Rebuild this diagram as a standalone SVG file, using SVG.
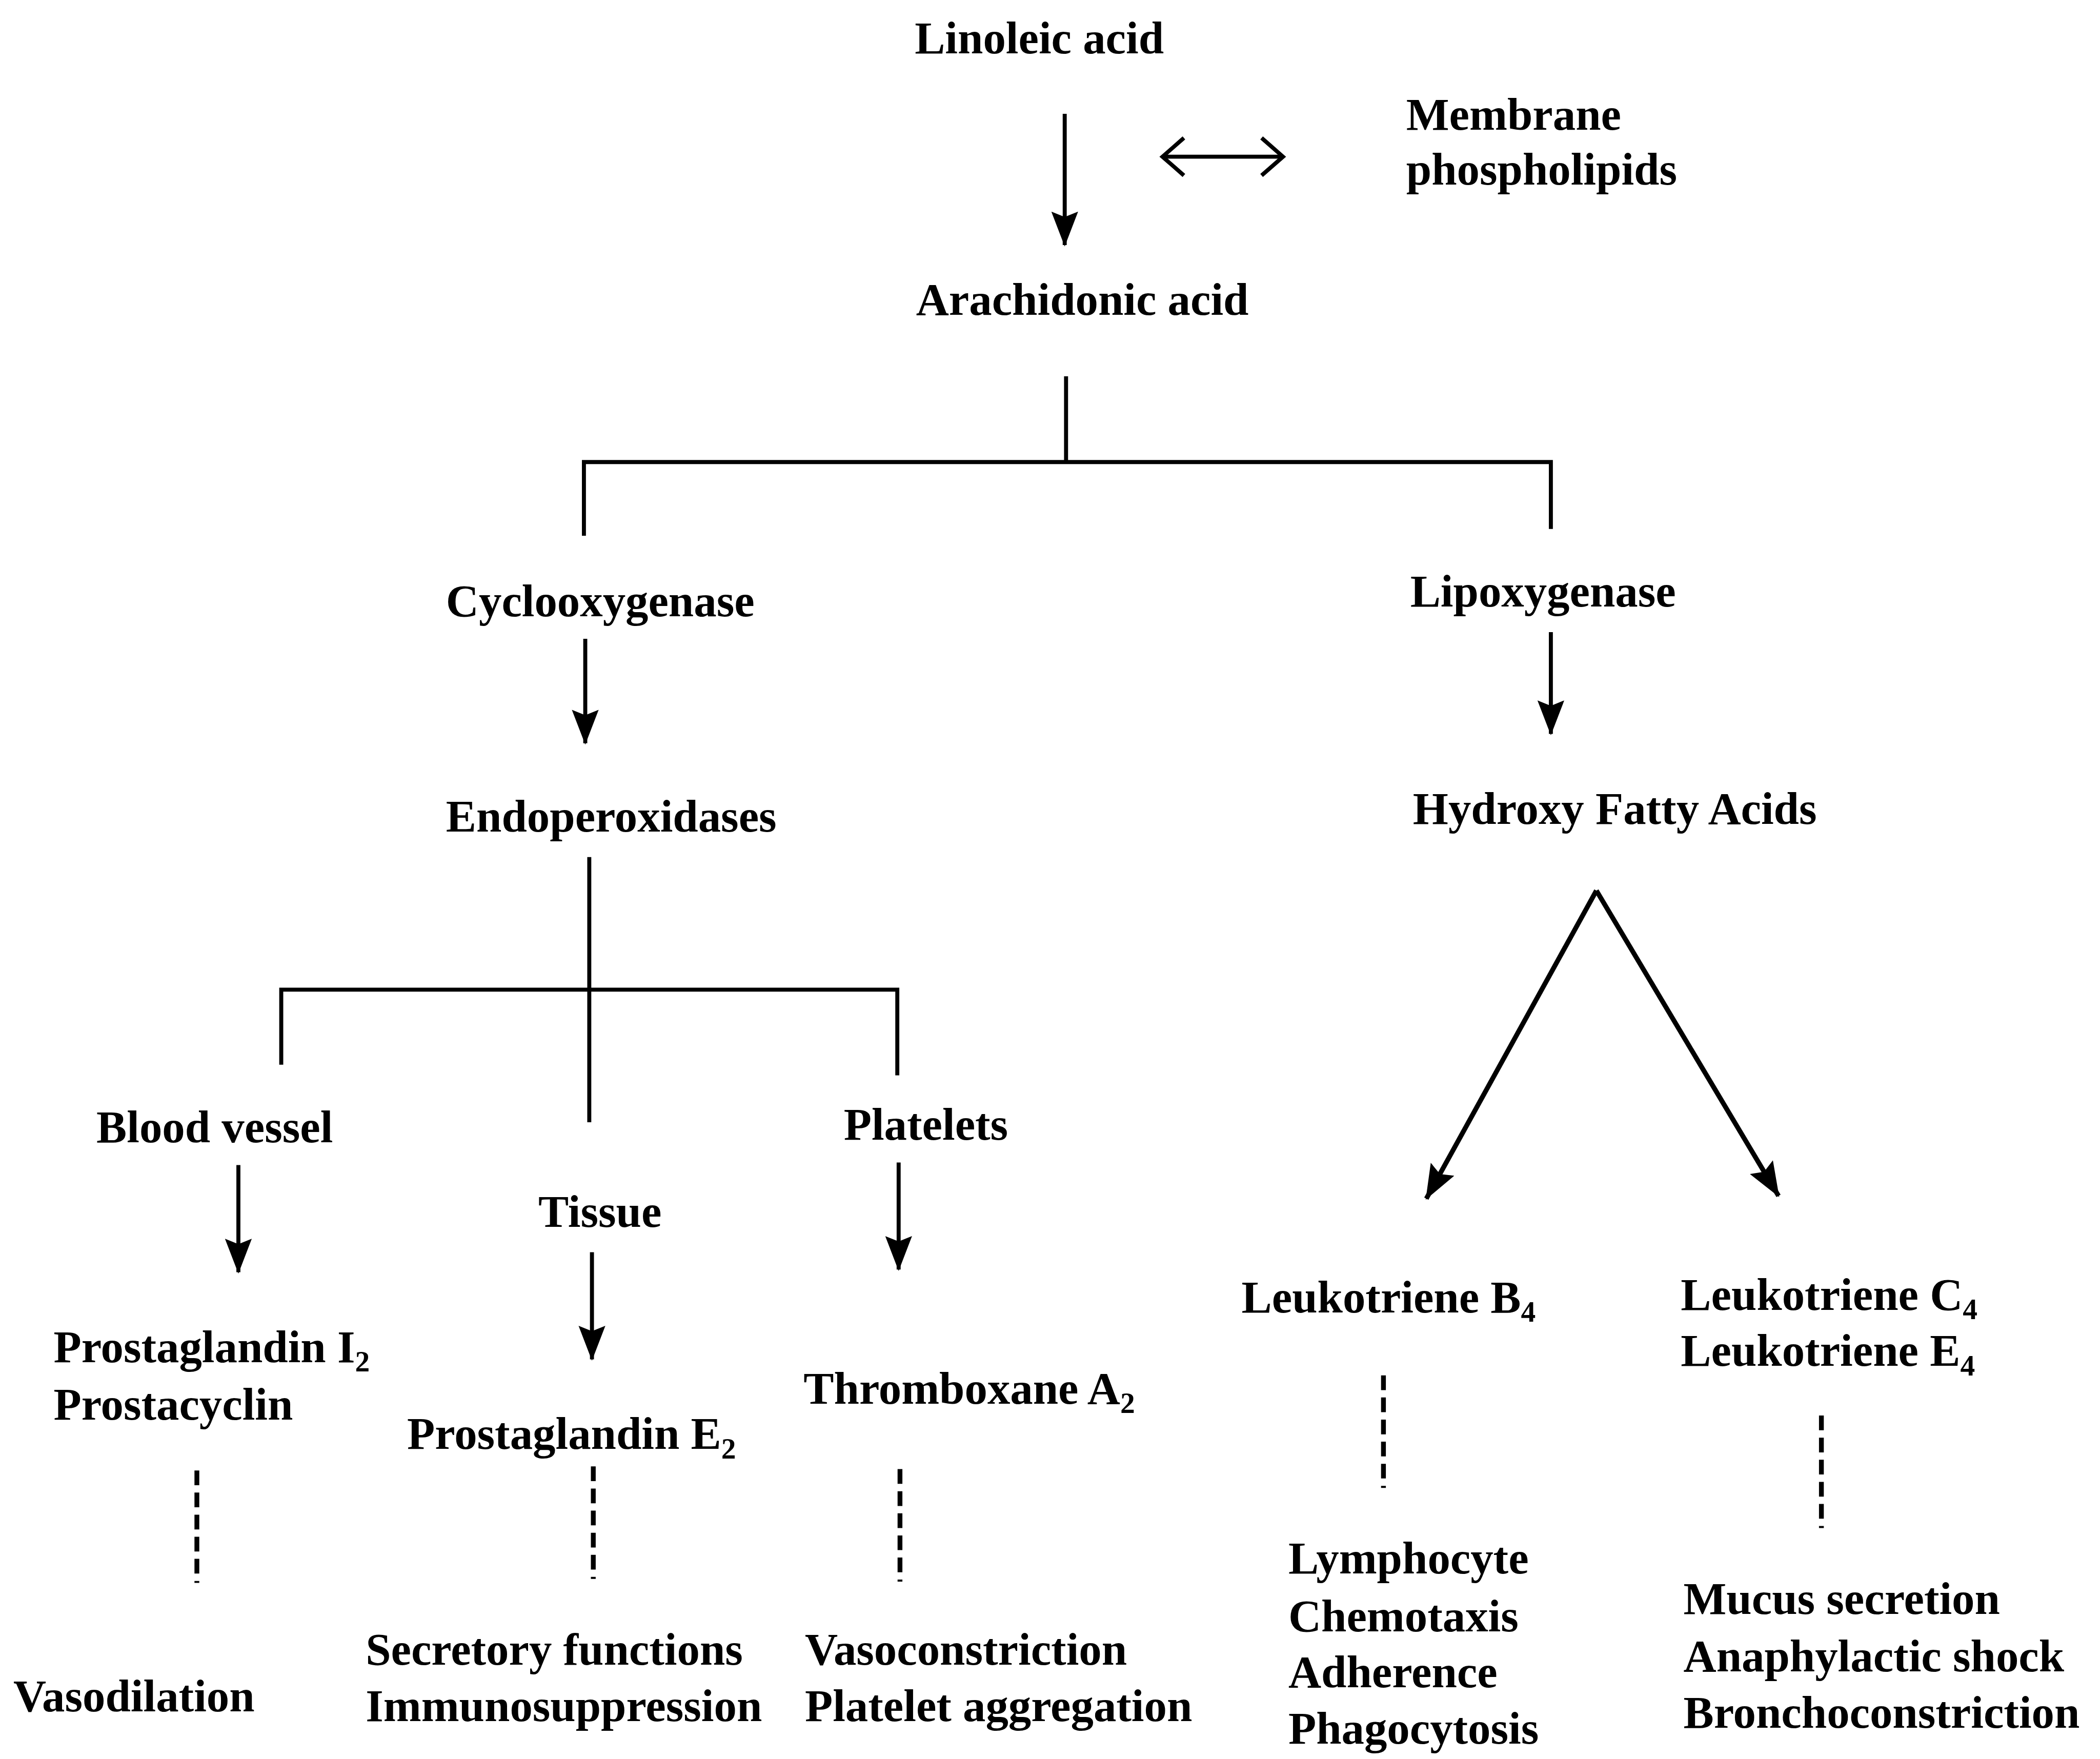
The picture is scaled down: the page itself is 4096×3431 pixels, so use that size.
<svg xmlns="http://www.w3.org/2000/svg" width="4096" height="3431" viewBox="0 0 4096 3431">
<style>
text{font-family:"Liberation Serif","Times New Roman",serif;font-weight:bold;font-size:34px;fill:#000}
.ln{stroke:#000;stroke-width:3;fill:none}
.ar{stroke:#000;stroke-width:3;fill:none;marker-end:url(#ah)}
.dg{stroke:#000;stroke-width:3.6;fill:none;marker-end:url(#ah)}
.ds{stroke:#000;stroke-width:3.6;fill:none;stroke-dasharray:11 5.5}
</style>
<defs>
<marker id="ah" viewBox="0 0 26 20" refX="25" refY="10" markerWidth="26" markerHeight="20" markerUnits="userSpaceOnUse" orient="auto">
<path d="M0,0 L26,10 L0,20 L4,10 z" fill="#000"/>
</marker>
</defs>
<rect width="4096" height="3431" fill="#fff"/>
<g transform="scale(2.6122)">
<g id="connectors">
<line class="ar" x1="795" y1="85" x2="795" y2="183"/>
<g id="double-arrow">
<line class="ln" x1="868" y1="117" x2="958" y2="117" stroke-width="4"/>
<path class="ln" d="M884,103 L868,117 L884,131 M942,103 L958,117 L942,131" stroke-width="4"/>
</g>
<path class="ln" d="M796,281 V345 M436,400 V345 H1158 V395"/>
<line class="ar" x1="437" y1="477" x2="437" y2="555"/>
<line class="ar" x1="1158" y1="472" x2="1158" y2="548"/>
<path class="ln" d="M440,640 V838 M210,795 V739 H670 V803"/>
<line class="ar" x1="178" y1="870" x2="178" y2="950"/>
<line class="ar" x1="442" y1="935" x2="442" y2="1015"/>
<line class="ar" x1="671" y1="868" x2="671" y2="948"/>
<path class="dg" d="M1192,665 L1065,895"/>
<path class="dg" d="M1192,665 L1328,893"/>
<line class="ds" x1="147" y1="1098" x2="147" y2="1182"/>
<line class="ds" x1="443" y1="1095" x2="443" y2="1179"/>
<line class="ds" x1="672" y1="1097" x2="672" y2="1181"/>
<line class="ds" x1="1033" y1="1027" x2="1033" y2="1111"/>
<line class="ds" x1="1360" y1="1057" x2="1360" y2="1141"/>
</g>
<g id="linoleic"><text x="683" y="40">Linoleic acid</text></g>
<g id="membrane"><text x="1050" y="97">Membrane</text><text x="1050" y="138">phospholipids</text></g>
<g id="arachidonic"><text x="684" y="235">Arachidonic acid</text></g>
<g id="cyclooxygenase"><text x="333" y="460">Cyclooxygenase</text></g>
<g id="lipoxygenase"><text x="1053" y="453">Lipoxygenase</text></g>
<g id="endoperoxidases"><text x="333" y="621">Endoperoxidases</text></g>
<g id="hydroxy"><text x="1055" y="615">Hydroxy Fatty Acids</text></g>
<g id="blood-vessel"><text x="72" y="853">Blood vessel</text></g>
<g id="platelets"><text x="630" y="851">Platelets</text></g>
<g id="tissue"><text x="402" y="916">Tissue</text></g>
<g id="pgi2"><text x="40" y="1017">Prostaglandin I<tspan font-size="22" dy="7">2</tspan></text><text x="40" y="1060">Prostacyclin</text></g>
<g id="pge2"><text x="304" y="1082">Prostaglandin E<tspan font-size="22" dy="7">2</tspan></text></g>
<g id="txa2"><text x="600" y="1048">Thromboxane A<tspan font-size="22" dy="7">2</tspan></text></g>
<g id="ltb4"><text x="927" y="980">Leukotriene B<tspan font-size="22" dy="7">4</tspan></text></g>
<g id="ltc4e4"><text x="1255" y="978">Leukotriene C<tspan font-size="22" dy="7">4</tspan></text><text x="1255" y="1020">Leukotriene E<tspan font-size="22" dy="7">4</tspan></text></g>
<g id="vasodilation"><text x="10" y="1278">Vasodilation</text></g>
<g id="secretory"><text x="273" y="1243">Secretory functions</text><text x="273" y="1285">Immunosuppression</text></g>
<g id="vasoconstriction"><text x="601" y="1243">Vasoconstriction</text><text x="601" y="1285">Platelet aggregation</text></g>
<g id="lymphocyte"><text x="962" y="1175">Lymphocyte</text><text x="962" y="1218">Chemotaxis</text><text x="962" y="1260">Adherence</text><text x="962" y="1302">Phagocytosis</text></g>
<g id="mucus"><text x="1257" y="1205">Mucus secretion</text><text x="1257" y="1248">Anaphylactic shock</text><text x="1257" y="1290">Bronchoconstriction</text></g>
</g>
</svg>
